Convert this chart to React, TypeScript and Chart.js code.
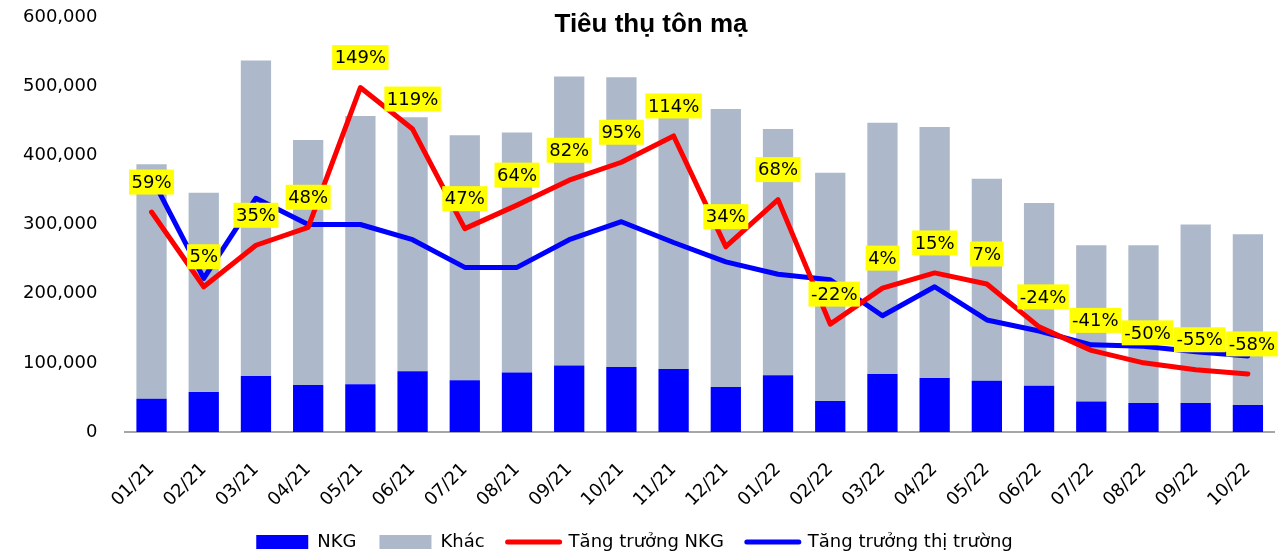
import React, { useEffect, useRef } from "react";
import { Chart, registerables } from "chart.js";

Chart.register(...registerables);

const categories = ["01/21","02/21","03/21","04/21","05/21","06/21","07/21","08/21","09/21","10/21","11/21","12/21","01/22","02/22","03/22","04/22","05/22","06/22","07/22","08/22","09/22","10/22"];
const nkgVolume = [48000,58000,81000,68000,69000,88000,75000,86000,96000,94000,91000,65000,82000,45000,84000,78000,74000,67000,44000,42000,42000,39000];
const otherVolume = [339000,288000,456000,354000,388000,367000,354000,347000,418000,419000,369000,402000,356000,330000,363000,363000,292000,264000,226000,228000,258000,247000];
const nkgGrowth = [59,5,35,48,149,119,47,64,82,95,114,34,68,-22,4,15,7,-24,-41,-50,-55,-58];
const marketGrowth = [84,11,69,50,50,39,19,19,39,52,37,23,14,10,-16,5,-19,-27,-37,-38,-42,-45];
const yTicks = [0,100000,200000,300000,400000,500000,600000];

const FONT = "'DejaVu Sans', sans-serif";

const labelPlugin = {
  id: "growthLabels",
  afterDatasetsDraw(chart: any) {
    const ctx = chart.ctx;
    const meta = chart.getDatasetMeta(2);
    ctx.save();
    ctx.font = `18px ${FONT}`;
    ctx.textAlign = "center";
    ctx.textBaseline = "middle";
    meta.data.forEach((pt: any, i: number) => {
      const txt = `${nkgGrowth[i]}%`;
      const w = ctx.measureText(txt).width + 5;
      const h = 25;
      const cx = pt.x + (nkgGrowth[i] < 0 ? 4 : 0);
      const cy = pt.y - 30;
      ctx.fillStyle = "#FFFF00";
      ctx.fillRect(cx - w / 2, cy - h / 2, w, h);
      ctx.fillStyle = "#000000";
      ctx.fillText(txt, cx, cy + 1);
    });
    ctx.restore();
  },
};

const titlePlugin = {
  id: "fixedTitle",
  afterDraw(chart: any) {
    const ctx = chart.ctx;
    ctx.save();
    ctx.font = `bold 26px 'Liberation Sans', Arial, sans-serif`;
    ctx.textAlign = "center";
    ctx.textBaseline = "alphabetic";
    ctx.fillStyle = "#000000";
    ctx.fillText("Tiêu thụ tôn mạ", 651, 32);
    ctx.restore();
  },
};

export default function App() {
  const ref = useRef<HTMLCanvasElement>(null);
  useEffect(() => {
    document.body.style.margin = "0";
    const chart = new Chart(ref.current as HTMLCanvasElement, {
      type: "bar",
      data: {
        labels: categories,
        datasets: [
          { type: "bar", label: "NKG", data: nkgVolume, backgroundColor: "#0000FF", borderWidth: 0, yAxisID: "y", order: 2, barPercentage: 0.58, categoryPercentage: 1 },
          { type: "bar", label: "Khác", data: otherVolume, backgroundColor: "#ADB9CA", borderWidth: 0, yAxisID: "y", order: 3, barPercentage: 0.58, categoryPercentage: 1 },
          { type: "line", label: "Tăng trưởng NKG", data: nkgGrowth, borderColor: "#FF0000", backgroundColor: "#FF0000", borderWidth: 5, pointRadius: 0, tension: 0, yAxisID: "y1", order: 0, borderCapStyle: "round", borderJoinStyle: "round" },
          { type: "line", label: "Tăng trưởng thị trường", data: marketGrowth, borderColor: "#0000FF", backgroundColor: "#0000FF", borderWidth: 5, pointRadius: 0, tension: 0, yAxisID: "y1", order: 1, borderCapStyle: "round", borderJoinStyle: "round" },
        ] as any,
      },
      options: {
        responsive: false,
        animation: false,
        devicePixelRatio: 1,
        layout: { padding: { left: -5, right: 4, top: 17, bottom: -7 } },
        plugins: {
          tooltip: { enabled: false },
          title: { display: false },
          legend: {
            display: true,
            position: "bottom",
            labels: {
              font: { family: FONT, size: 18 },
              color: "#000000",
              padding: 23,
              usePointStyle: true,
              pointStyleWidth: 52,
              boxHeight: 14,
              generateLabels: () => [
                { text: "NKG", fillStyle: "#0000FF", strokeStyle: "#0000FF", lineWidth: 0, pointStyle: "rect", datasetIndex: 0, hidden: false, fontColor: "#000" },
                { text: "Khác", fillStyle: "#ADB9CA", strokeStyle: "#ADB9CA", lineWidth: 0, pointStyle: "rect", datasetIndex: 1, hidden: false, fontColor: "#000" },
                { text: "Tăng trưởng NKG", fillStyle: "#FF0000", strokeStyle: "#FF0000", lineWidth: 5, lineCap: "round", pointStyle: "line", datasetIndex: 2, hidden: false, fontColor: "#000" },
                { text: "Tăng trưởng thị trường", fillStyle: "#0000FF", strokeStyle: "#0000FF", lineWidth: 5, lineCap: "round", pointStyle: "line", datasetIndex: 3, hidden: false, fontColor: "#000" },
              ] as any,
            },
          },
        },
        scales: {
          x: {
            stacked: true,
            offset: true,
            grid: { display: false, drawTicks: false },
            border: { display: true, color: "#A6A6A6", width: 2 },
            ticks: { font: { family: FONT, size: 18 }, color: "#000000", minRotation: 45, maxRotation: 45, padding: 27, autoSkip: false },
            afterFit: (axis: any) => { axis.height = 78; axis.paddingLeft = 0; axis.paddingRight = 0; },
          },
          y: {
            stacked: true,
            min: 0,
            max: 600000,
            afterBuildTicks: (axis: any) => { axis.ticks = yTicks.map((v) => ({ value: v })); },
            afterFit: (axis: any) => { axis.paddingTop = 0; axis.paddingBottom = 0; },
            grid: { display: false, drawTicks: false },
            border: { display: false },
            ticks: { font: { family: FONT, size: 18 }, color: "#000000", padding: 28, callback: (v: any) => Number(v).toLocaleString("en-US") },
          },
          y1: { display: false, min: -100, max: 200 },
        },
      },
      plugins: [labelPlugin, titlePlugin],
    });
    return () => chart.destroy();
  }, []);
  return (
    <div style={{ position: "absolute", left: 0, top: 0, width: 1278, height: 554, background: "#fff" }}>
      <canvas ref={ref} width={1278} height={554} />
    </div>
  );
}
